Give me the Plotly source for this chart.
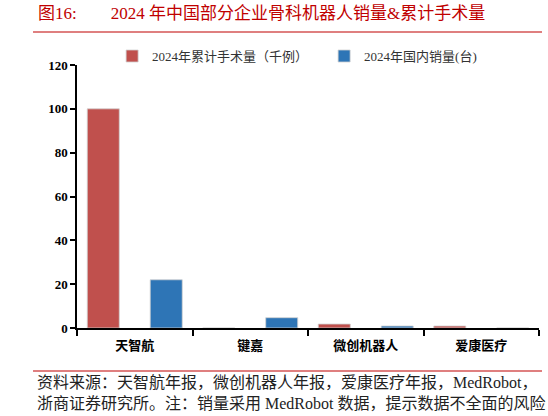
import plotly.graph_objects as go

# data
companies = ['天智航', '键嘉', '微创机器人', '爱康医疗']
surgeries_2024 = [100, 0, 1.8, 0.9]      # 2024年累计手术量（千例）
domestic_sales_2024 = [22, 4.7, 0.9, 0]  # 2024年国内销量(台)

title_text = ('图16:' + '&nbsp;' * 8 +
              '2024 年中国部分企业骨科机器人销量&amp;累计手术量')
source_text = ('资料来源：天智航年报，微创机器人年报，爱康医疗年报，MedRobot，<br>'
               '浙商证券研究所。注：销量采用 MedRobot 数据，提示数据不全面的风险')

serif_cjk = 'Liberation Serif, Noto Sans CJK SC'
dark_red = '#C00000'

fig = go.Figure()

# two bars per company, placed by hand inside each category slot
fig.add_trace(go.Bar(x=companies, y=surgeries_2024, name='2024年累计手术量（千例）',
                     width=0.277, offset=-0.411,
                     marker=dict(color='#C0504D', line=dict(color='#d0d0d0', width=0.8))))
fig.add_trace(go.Bar(x=companies, y=domestic_sales_2024, name='2024年国内销量(台)',
                     width=0.277, offset=0.134,
                     marker=dict(color='#2E75B6', line=dict(color='#d0d0d0', width=0.8))))

fig.update_layout(
    width=548, height=416,
    margin=dict(l=77, r=9, t=65, b=88),
    paper_bgcolor='white', plot_bgcolor='white',
    barmode='group',
    font=dict(family=serif_cjk, color='black'),
    showlegend=True,
    legend=dict(orientation='h', x=0.076, xanchor='left', y=1.034, yanchor='middle',
                font=dict(family=serif_cjk, size=13, color='#333333'),
                itemwidth=30, entrywidth=167, entrywidthmode='pixels',
                bgcolor='rgba(0,0,0,0)', borderwidth=0),
)

fig.update_yaxes(range=[0, 120], dtick=20, showgrid=False, zeroline=False,
                 showline=True, linecolor='black', linewidth=1.5,
                 ticks='outside', ticklen=5, tickwidth=1.5, tickcolor='black',
                 tickfont=dict(family='Liberation Serif', size=13, color='black', weight='bold'))
fig.update_xaxes(showgrid=False, showline=True, linecolor='black', linewidth=1.5,
                 ticks='outside', tickson='boundaries', ticklen=6, tickwidth=1.5, tickcolor='black',
                 ticklabelstandoff=5,
                 tickfont=dict(family='Noto Sans CJK SC', size=13, color='black', weight='bold'))

# title and the red rules above and below the chart
fig.add_annotation(text=title_text, xref='paper', yref='paper', x=-0.0887, y=1.194,
                   xanchor='left', yanchor='middle', showarrow=False,
                   font=dict(family=serif_cjk, size=17, color=dark_red))
fig.add_shape(type='line', xref='paper', yref='paper', x0=-0.0952, x1=1.0065, y0=1.1255, y1=1.1255,
              line=dict(color=dark_red, width=1.2))
fig.add_shape(type='line', xref='paper', yref='paper', x0=-0.0952, x1=1.0065, y0=-0.1635, y1=-0.1635,
              line=dict(color=dark_red, width=1.2))

fig.add_annotation(text=source_text, xref='paper', yref='paper', x=-0.0909, y=-0.247,
                   xanchor='left', yanchor='middle', align='left', showarrow=False,
                   font=dict(family=serif_cjk, size=16, color='#222222'))

# drop the browser's default page margin so the figure sits at the window corner
fig.write_html('out.html', config={'displayModeBar': False},
               post_script="document.body.style.margin='0px';")
